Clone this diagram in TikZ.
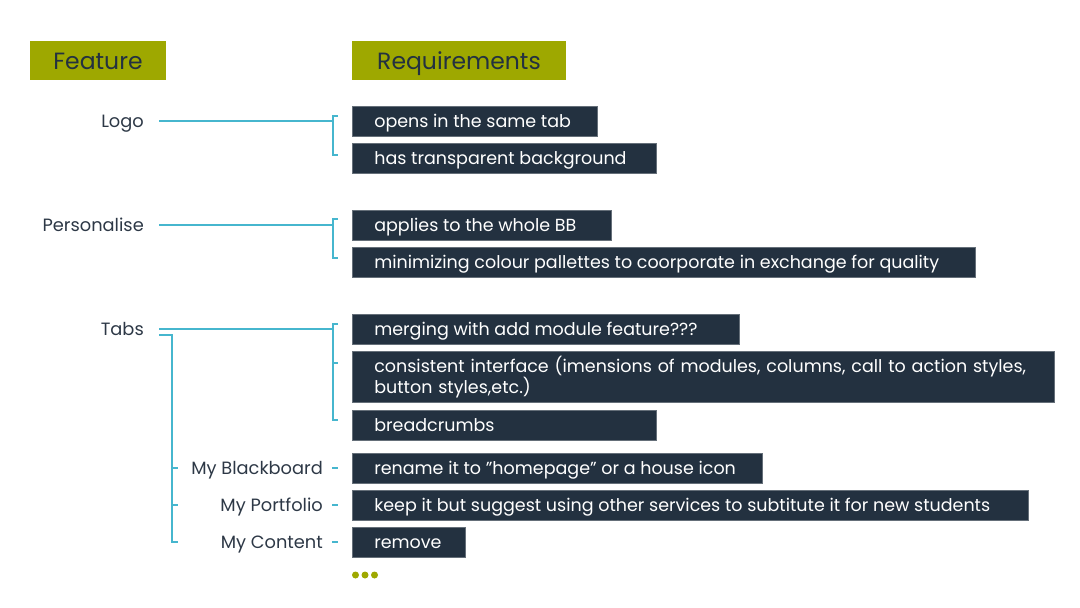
\documentclass[tikz,border=0pt]{standalone}
\usepackage{fontspec}
\setmainfont{Poppins}
\definecolor{olive}{RGB}{158,168,0}
\definecolor{navy}{RGB}{35,49,64}
\definecolor{cyanl}{RGB}{70,182,206}
\definecolor{labtext}{RGB}{45,56,70}
\newcommand{\rbox}[2]{\hbox to #1pt{#2\hss}}
\begin{document}
\begin{tikzpicture}[x=1pt,y=-1pt,
  hdr/.style={fill=olive,inner sep=0,minimum height=39pt,text=navy,text height=20pt,text depth=2pt,font=\fontsize{23.5}{28}\selectfont},
  req/.style={fill=navy,draw=navy!70!white,line width=0.6pt,text=white,anchor=west,inner xsep=22pt,inner ysep=0pt,minimum height=30pt,text height=15pt,text depth=2pt,font=\fontsize{17.5}{21.5}\selectfont},
  req2/.style={fill=navy,draw=navy!70!white,line width=0.6pt,text=white,anchor=west,inner xsep=22pt,inner ysep=0pt,minimum height=51pt,align=left,font=\fontsize{17.5}{21.5}\selectfont},
  lab/.style={inner sep=0,text=labtext,anchor=east,text height=15pt,text depth=2pt,font=\fontsize{17.8}{21}\selectfont},
  conn/.style={draw=cyanl,line width=1.1pt},
  dot/.style={circle,fill=olive,inner sep=0,minimum size=7pt}]
\useasboundingbox (0,0) rectangle (1080,608);
% headers
\node[hdr,minimum width=136pt] (hfeat) at (98,60.5) {Feature};
\node[hdr,minimum width=214pt] (hreq) at (459,60.5) {Requirements};
% requirement boxes
\node[req] (r1) at (352,121) {\rbox{201}{opens in the same tab}};
\node[req] (r2) at (352,158) {\rbox{260}{has transparent background}};
\node[req] (r3) at (352,225) {\rbox{215}{applies to the whole BB}};
\node[req] (r4) at (352,262) {\rbox{579}{minimizing colour pallettes to coorporate in exchange for quality}};
\node[req] (r5) at (352,329) {\rbox{343}{merging with add module feature???}};
\node[req2,text width=658pt] (r6) at (352,377) {consistent interface (imensions of modules, columns, call to action styles,\\button styles,etc.)};
\node[req] (r7) at (352,425) {\rbox{260}{breadcrumbs}};
\node[req] (r8) at (352,468) {\rbox{366}{rename it to "homepage" or a house icon}};
\node[req] (r9) at (352,505) {\rbox{632}{keep it but suggest using other services to subtitute it for new students}};
\node[req] (r10) at (352,542) {\rbox{69}{remove}};
% feature labels
\node[lab] (logo) at (144,121) {Logo};
\node[lab] (pers) at (144,225) {Personalise};
\node[lab] (tabs) at (144,329) {Tabs};
\node[lab] (mybb) at (323,468) {My Blackboard};
\node[lab] (mypf) at (323,505) {My Portfolio};
\node[lab] (myct) at (323,542) {My Content};
% bracket coordinates
\coordinate (b1t) at (333,116); \coordinate (b1b) at (333,155);
\coordinate (b2t) at (333,219); \coordinate (b2b) at (333,258);
\coordinate (b3t) at (333,324); \coordinate (b3m) at (333,363); \coordinate (b3b) at (333,420);
% Logo
\draw[conn] ([xshift=15pt]logo.east) -- (logo.east -| b1t);
\draw[conn] ([xshift=5pt]b1t) -- (b1t) -- (b1b) -- ([xshift=5pt]b1b);
% Personalise
\draw[conn] ([xshift=15pt]pers.east) -- (pers.east -| b2t);
\draw[conn] ([xshift=5pt]b2t) -- (b2t) -- (b2b) -- ([xshift=5pt]b2b);
% Tabs
\draw[conn] ([xshift=15pt]tabs.east) -- (tabs.east -| b3t);
\draw[conn] ([xshift=5pt]b3t) -- (b3t) -- (b3b) -- ([xshift=5pt]b3b);
\draw[conn] (b3m) -- ([xshift=5pt]b3m);
% Tabs tree
\coordinate (tt) at (172,335);
\coordinate (tb) at (172,542);
\draw[conn] ([xshift=15pt]tabs.east |- tt) -- (tt) -- (tb) -- ([xshift=6pt]tb);
\draw[conn] (tt |- mybb.east) -- ++(6,0);
\draw[conn] (tt |- mypf.east) -- ++(6,0);
% small dashes
\draw[conn] ([xshift=9pt]mybb.east) -- ([xshift=15pt]mybb.east);
\draw[conn] ([xshift=9pt]mypf.east) -- ([xshift=15pt]mypf.east);
\draw[conn] ([xshift=9pt]myct.east) -- ([xshift=15pt]myct.east);
% dots
\node[dot] (d1) at (355.5,575) {};
\node[dot] (d2) at (365,575) {};
\node[dot] (d3) at (374.5,575) {};
\end{tikzpicture}
\end{document}
